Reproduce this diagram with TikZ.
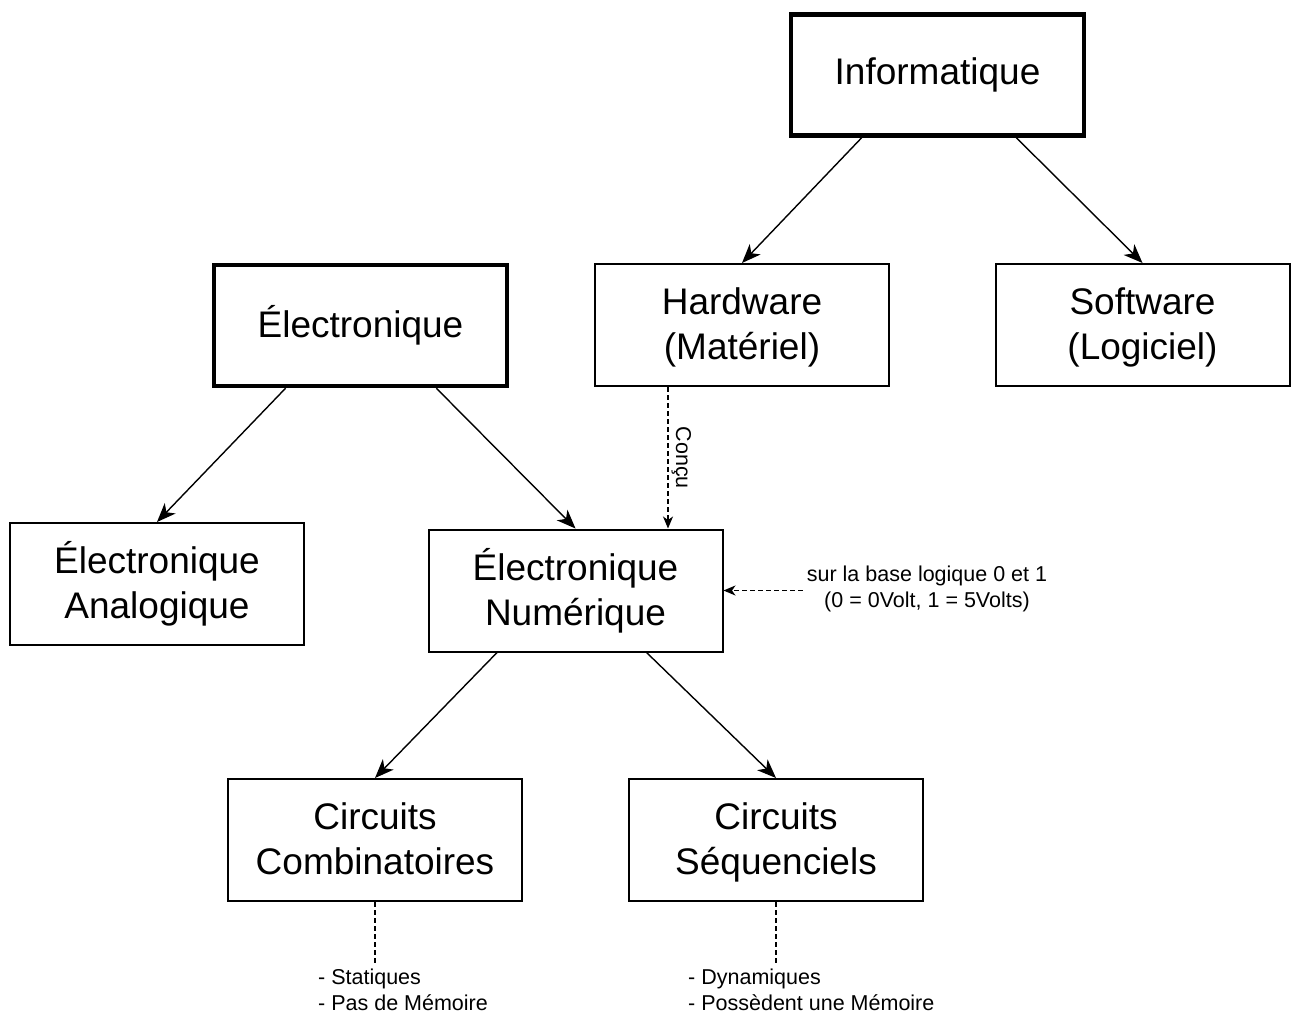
\documentclass[tikz,border=0pt]{standalone}
\usepackage{fontspec}
\setmainfont{Liberation Sans}
\usetikzlibrary{arrows.meta,calc}

% keeps the vertical centring of two-line labels independent of their glyphs
\newcommand\lstrut{\vphantom{Égq}}

\tikzset{
  x=1pt, y=-1pt,
  box/.style={draw=black, line width=2pt, fill=white, minimum width=294pt, minimum height=122pt,
    inner sep=0pt, align=center, font=\fontsize{37}{45}\selectfont},
  mainbox/.style={box, line width=4.5pt, minimum width=293pt, minimum height=121pt},
  link/.style={draw=black, line width=1.4pt, -{Stealth[length=19pt,width=15pt,inset=5.5pt]}},
  dlink/.style={draw=black, line width=1.2pt, dash pattern=on 5pt off 3pt,
    -{Stealth[length=12pt,width=10pt,inset=3.5pt]}},
  dline/.style={draw=black, line width=1.2pt, dash pattern=on 5pt off 3pt},
  note/.style={inner sep=0pt, font=\fontsize{21.5}{26}\selectfont},
}

\begin{document}
\begin{tikzpicture}
\useasboundingbox (0,0) rectangle (1292,1014);

% main boxes
\node[mainbox] (info) at (937.5,75) {Informatique};
\node[mainbox] (elec) at (360.5,325.5) {Électronique};

% second level
\node[box] (hw) at (742,325) {\lstrut Hardware\\(Matériel)\lstrut};
\node[box] (sw) at (1142.5,325) {\lstrut Software\\(Logiciel)\lstrut};
\node[box] (ana) at (157,584) {\lstrut Électronique\\Analogique\lstrut};
\node[box] (num) at (575.5,590.5) {\lstrut Électronique\\Numérique\lstrut};

% circuits
\node[box] (comb) at (375,840) {\lstrut Circuits\\Combinatoires\lstrut};
\node[box] (seq) at (776,840) {\lstrut Circuits\\Séquenciels\lstrut};

% side notes
\node[note, align=center] (base) at (927,589) {sur la base logique 0 et 1\\(0 = 0Volt, 1 = 5Volts)};
\node[note, align=left, anchor=north west] (stat) at (318,969) {- Statiques\\- Pas de Mémoire};
\node[note, align=left, anchor=north west] (dyn) at (688,969) {- Dynamiques\\- Possèdent une Mémoire};

% tree connectors
\draw[link] ($(info.south west)!0.245!(info.south east)$) -- (hw.north);
\draw[link] ($(info.south west)!0.765!(info.south east)$) -- (sw.north);
\draw[link] ($(elec.south west)!0.248!(elec.south east)$) -- (ana.north);
\draw[link] ($(elec.south west)!0.755!(elec.south east)$) -- (num.north);
\draw[link] ($(num.south west)!0.235!(num.south east)$) -- (comb.north);
\draw[link] ($(num.south west)!0.74!(num.south east)$) -- (seq.north);

% dashed relations
\coordinate (hwout) at ($(hw.south west)!0.25!(hw.south east)$);
\draw[dlink] (hwout) -- (hwout |- num.north)
  node[pos=0.5, note, rotate=-90, anchor=south, inner sep=3pt] (concu) {Conçu};
\draw[dlink] (base.west |- num.east) ++(-4,0) -- (num.east);
\draw[dline] (comb.south) -- ($(comb.south |- stat.north)+(0,-4)$);
\draw[dline] (seq.south) -- ($(seq.south |- dyn.north)+(0,-4)$);
\end{tikzpicture}
\end{document}
